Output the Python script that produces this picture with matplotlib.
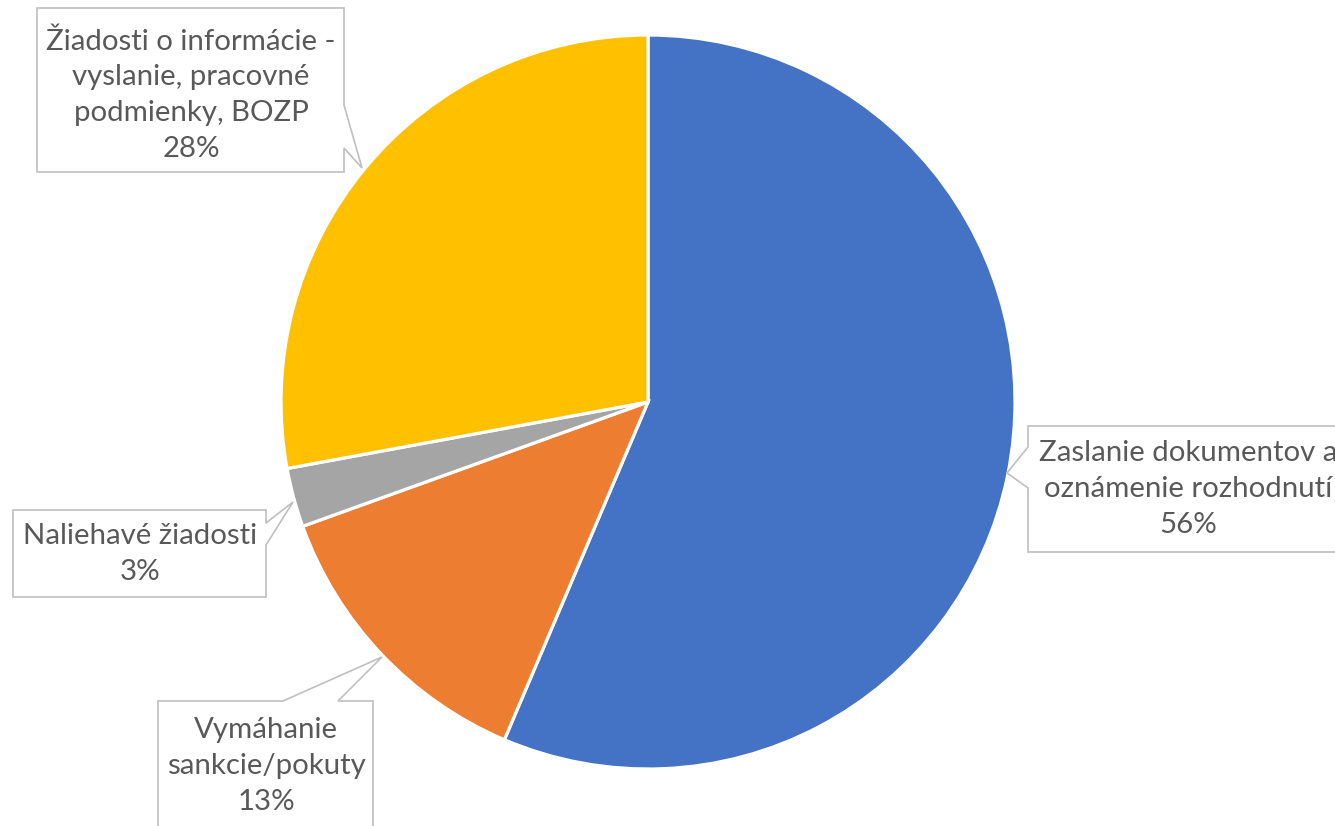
import matplotlib
matplotlib.use("Agg")
import matplotlib.pyplot as plt
from matplotlib.patches import Polygon

# Share of requests by type (percent)
categories = [
    "Zaslanie dokumentov a\noznámenie rozhodnutí",
    "Vymáhanie\nsankcie/pokuty",
    "Naliehavé žiadosti",
    "Žiadosti o informácie -\nvyslanie, pracovné\npodmienky, BOZP",
]
values = [56.4, 13.1, 2.6, 27.9]
colors = ["#4472C4", "#ED7D31", "#A5A5A5", "#FFC000"]

W, H = 1335, 826
fig = plt.figure(figsize=(W / 100, H / 100), dpi=100)
ax = fig.add_axes([0, 0, 1, 1])


def py(y):
    """Convert a top-down pixel row to the axes' bottom-up coordinate."""
    return H - y


cx, cy, r = 648, py(402), 367
ax.pie(values, colors=colors, startangle=90, counterclock=False,
       center=(cx, cy), radius=r,
       wedgeprops=dict(edgecolor="white", linewidth=2.3))

ax.set_xlim(0, W)
ax.set_ylim(0, H)
ax.set_aspect("equal")
ax.axis("off")

text_kw = dict(fontsize=21.2, color="#595959", family=["Lato", "DejaVu Sans"],
               ha="center", va="center", linespacing=1.46)
box_kw = dict(closed=True, facecolor="white", edgecolor="#BFBFBF",
              linewidth=1.2, zorder=3)

# Callout outlines: box with a pointer wedge towards the slice
callouts = [
    # blue
    [(1028, 426), (1345, 426), (1345, 552), (1028, 552), (1028, 488),
     (1007, 473), (1028, 447)],
    # orange
    [(158, 701), (283, 701), (382, 657), (338, 701), (373, 701),
     (373, 840), (158, 840)],
    # gray
    [(13, 510), (266, 510), (266, 523), (293, 502), (266, 545),
     (266, 597), (13, 597)],
    # yellow
    [(37, 8), (344, 8), (344, 105), (362, 168), (344, 148),
     (344, 172), (37, 172)],
]
label_pos = [(1188, 489), (266, 766), (140, 554), (191, 95)]

for name, val, outline, (tx, ty) in zip(categories, values, callouts, label_pos):
    ax.add_patch(Polygon([(x, py(y)) for x, y in outline], **box_kw))
    ax.text(tx, py(ty), f"{name}\n{val:.0f}%", zorder=4, **text_kw)

fig.savefig("out.png", dpi=100)
